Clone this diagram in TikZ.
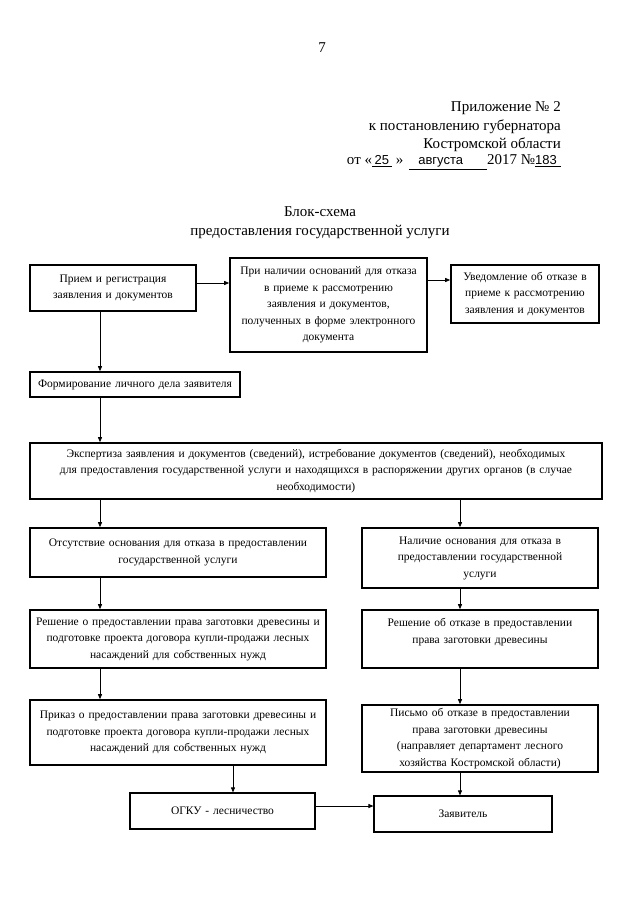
\documentclass[tikz,border=0pt]{standalone}
\usepackage{fontspec}
\setmainfont{Liberation Serif}
\newfontfamily\handfont{Liberation Sans}
\usetikzlibrary{arrows.meta,calc}
\tikzset{
  box/.style={draw, line width=1.6pt, align=center, inner sep=2pt,
    font=\fontsize{11.5}{16.5}\selectfont},
  thinbox/.style={box, line width=1.1pt},
  arr/.style={line width=0.8pt, -{Triangle[length=5pt,width=4pt]}},
  hdr/.style={font=\fontsize{15}{18}\selectfont, inner sep=0pt}
}
\begin{document}
\begin{tikzpicture}[x=1pt,y=-1pt]
\useasboundingbox (0,0) rectangle (640,905);
% header
\node[hdr] (pg) at (322,48) {7};
\node[hdr, anchor=east] (h1) at (561,108) {Приложение № 2};
\node[hdr, anchor=east] (h2) at (561,127) {к постановлению губернатора};
\node[hdr, anchor=east] (h3) at (561,145) {Костромской области};
\node[hdr, anchor=east] (h4) at (561,162) {от «\underline{\,{\handfont\fontsize{13}{14}\selectfont 25}\hspace{3pt}} »\hspace{6pt}\underline{\hspace{9pt}{\handfont\fontsize{13}{14}\selectfont августа}\hspace{24pt}}2017 №\underline{{\handfont\fontsize{13}{14}\selectfont 183}\hspace{4pt}}};
\node[hdr] (t1) at (320,212) {Блок-схема};
\node[hdr] (t2) at (320,232) {предоставления государственной услуги};
% boxes
\node[box, minimum width=166, minimum height=46, text width=162] (A) at (113,288)
  {Прием и регистрация\\заявления и документов};
\node[box, minimum width=197, minimum height=94, text width=193] (B) at (328.5,305)
  {При наличии оснований для отказа\\в приеме к рассмотрению\\заявления и документов,\\полученных в форме электронного\\документа};
\node[box, minimum width=146, minimum height=58, text width=144] (C) at (525,294)
  {Уведомление об отказе в\\приеме к рассмотрению\\заявления и документов};
\node[box, minimum width=210, minimum height=25, text width=206] (D) at (135,384.5)
  {Формирование личного дела заявителя};
\node[box, minimum width=572, minimum height=56, text width=568] (E) at (316,471)
  {Экспертиза заявления и документов (сведений), истребование документов (сведений), необходимых\\для предоставления государственной услуги и находящихся в распоряжении других органов (в случае\\необходимости)};
\node[box, minimum width=296, minimum height=49, text width=292] (F) at (178,552.5)
  {Отсутствие основания для отказа в предоставлении\\государственной услуги};
\node[box, minimum width=236, minimum height=60, text width=232] (G) at (480,558)
  {Наличие основания для отказа в\\предоставлении государственной\\услуги};
\node[box, minimum width=296, minimum height=58, text width=292] (H) at (178,639)
  {Решение о предоставлении права заготовки древесины и\\подготовке проекта договора купли-продажи лесных\\насаждений для собственных нужд};
\node[box, minimum width=236, minimum height=58, text width=232] (I) at (480,639)
  {Решение об отказе в предоставлении\\права заготовки древесины\\\phantom{x}};
\node[box, minimum width=296, minimum height=65, text width=292] (J) at (178,732.5)
  {Приказ о предоставлении права заготовки древесины и\\подготовке проекта договора купли-продажи лесных\\насаждений для собственных нужд};
\node[box, minimum width=236, minimum height=67, text width=232] (K) at (480,738.5)
  {Письмо об отказе в предоставлении\\права заготовки древесины\\(направляет департамент лесного\\хозяйства Костромской области)};
\node[thinbox, minimum width=185, minimum height=36, text width=180] (L) at (222.5,811)
  {ОГКУ - лесничество};
\node[thinbox, minimum width=178, minimum height=36, text width=172] (M) at (463,814)
  {Заявитель};
% connectors
\draw[arr] (A.east |- 0,283) -- (B.west |- 0,283);
\draw[arr] (B.east |- 0,280) -- (C.west |- 0,280);
\draw[arr] (A.south -| 100,0) -- (D.north -| 100,0);
\draw[arr] (D.south -| 100,0) -- (E.north -| 100,0);
\draw[arr] (E.south -| 100,0) -- (F.north -| 100,0);
\draw[arr] (E.south -| 460,0) -- (G.north -| 460,0);
\draw[arr] (F.south -| 100,0) -- (H.north -| 100,0);
\draw[arr] (G.south -| 460,0) -- (I.north -| 460,0);
\draw[arr] (H.south -| 100,0) -- (J.north -| 100,0);
\draw[arr] (I.south -| 460,0) -- (K.north -| 460,0);
\draw[arr] (J.south -| 233,0) -- (L.north -| 233,0);
\draw[arr] (K.south -| 460,0) -- (M.north -| 460,0);
\draw[arr] (L.east |- 0,806) -- (M.west |- 0,806);
\end{tikzpicture}
\end{document}
